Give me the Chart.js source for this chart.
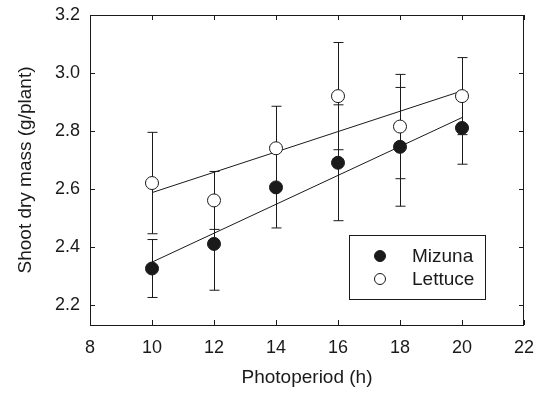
<!DOCTYPE html>
<html>
<head>
<meta charset="utf-8">
<script src="https://cdn.jsdelivr.net/npm/chart.js@4.4.1/dist/chart.umd.min.js"></script>
<style>
  html, body { margin: 0; padding: 0; background: #fff; }
</style>
</head>
<body>
<canvas id="chart" width="539" height="394"></canvas>
<script>
// values
const photoperiod = [10, 12, 14, 16, 18, 20];
const mizuna = [2.325, 2.41, 2.605, 2.69, 2.745, 2.81];
const mizunaErr = [0.1, 0.16, 0.14, 0.2, 0.205, 0.125];
const lettuce = [2.62, 2.56, 2.74, 2.92, 2.815, 2.92];
const lettuceErr = [0.175, 0.1, 0.145, 0.185, 0.18, 0.133];

// fitted regression lines (end points)
const fitX = [10, 20];
const mizunaFit = [2.347, 2.846];
const lettuceFit = [2.587, 2.938];

const xTicks = [8, 10, 12, 14, 16, 18, 20, 22];
const yTicks = [2.2, 2.4, 2.6, 2.8, 3.0, 3.2];

const ink = "#1a1a1a";
const fontFamily = "'Liberation Sans', Arial, sans-serif";

function pts(xs, ys) {
    return xs.map((x, i) => ({ x: x, y: ys[i] }));
}

// frame, inward ticks, error bars and the boxed legend
const decorations = {
    id: "decorations",
    beforeDatasetsDraw(chart) {
        const ctx = chart.ctx;
        const a = chart.chartArea;
        const xs = chart.scales.x;
        const ys = chart.scales.y;
        ctx.save();
        ctx.strokeStyle = ink;
        ctx.lineWidth = 1;

        // box
        ctx.strokeRect(a.left + 0.5, a.top + 0.5, a.right - a.left - 1, a.bottom - a.top);

        // ticks pointing inward on all four sides
        const tl = 5;
        ctx.beginPath();
        xTicks.forEach(v => {
            const px = Math.round(xs.getPixelForValue(v)) + 0.5;
            ctx.moveTo(px, a.bottom); ctx.lineTo(px, a.bottom - tl);
            ctx.moveTo(px, a.top); ctx.lineTo(px, a.top + tl);
        });
        yTicks.forEach(v => {
            const py = Math.round(ys.getPixelForValue(v)) + 0.5;
            ctx.moveTo(a.left, py); ctx.lineTo(a.left + tl, py);
            ctx.moveTo(a.right, py); ctx.lineTo(a.right - tl, py);
        });
        ctx.stroke();

        // error bars
        const cap = 5;
        function bars(vals, errs) {
            ctx.beginPath();
            photoperiod.forEach((x, i) => {
                const px = Math.round(xs.getPixelForValue(x)) + 0.5;
                const hi = ys.getPixelForValue(vals[i] + errs[i]);
                const lo = ys.getPixelForValue(vals[i] - errs[i]);
                ctx.moveTo(px, hi); ctx.lineTo(px, lo);
                ctx.moveTo(px - cap, hi); ctx.lineTo(px + cap, hi);
                ctx.moveTo(px - cap, lo); ctx.lineTo(px + cap, lo);
            });
            ctx.stroke();
        }
        bars(mizuna, mizunaErr);
        bars(lettuce, lettuceErr);
        ctx.restore();
    },
    afterDatasetsDraw(chart) {
        const ctx = chart.ctx;
        const a = chart.chartArea;
        const left = a.right - 175, top = a.top + 220;
        const w = 136, h = 64;
        ctx.save();
        ctx.fillStyle = "#fff";
        ctx.fillRect(left, top, w, h);
        ctx.strokeStyle = ink;
        ctx.lineWidth = 1;
        ctx.strokeRect(left + 0.5, top + 0.5, w, h);

        const items = [
            { label: "Mizuna", fill: ink },
            { label: "Lettuce", fill: "#fff" }
        ];
        ctx.font = "19px " + fontFamily;
        ctx.textBaseline = "middle";
        ctx.textAlign = "left";
        items.forEach((it, i) => {
            const cy = top + 21 + i * 23;
            ctx.beginPath();
            ctx.arc(left + 31, cy, 5.5, 0, Math.PI * 2);
            ctx.fillStyle = it.fill;
            ctx.fill();
            ctx.stroke();
            ctx.fillStyle = ink;
            ctx.fillText(it.label, left + 63, cy + 1);
        });
        ctx.restore();
    }
};

const ctx = document.getElementById("chart").getContext("2d");
const chart = new Chart(ctx, {
    type: "scatter",
    data: {
        datasets: [
            {
                label: "Mizuna",
                data: pts(photoperiod, mizuna),
                backgroundColor: ink,
                borderColor: ink,
                borderWidth: 1,
                pointRadius: 6.5
            },
            {
                label: "Lettuce",
                data: pts(photoperiod, lettuce),
                backgroundColor: "#fff",
                borderColor: ink,
                borderWidth: 1,
                pointRadius: 6.5
            },
            {
                label: "Mizuna fit",
                type: "line",
                data: pts(fitX, mizunaFit),
                borderColor: ink,
                borderWidth: 1,
                pointRadius: 0,
                fill: false
            },
            {
                label: "Lettuce fit",
                type: "line",
                data: pts(fitX, lettuceFit),
                borderColor: ink,
                borderWidth: 1,
                pointRadius: 0,
                fill: false
            }
        ]
    },
    options: {
        responsive: false,
        animation: false,
        layout: { padding: { top: 15, right: 15, left: 0, bottom: 0 } },
        plugins: {
            legend: { display: false },
            tooltip: { enabled: false }
        },
        scales: {
            x: {
                type: "linear",
                min: 8,
                max: 22,
                afterFit: s => {
                    s.height = 69;
                    s.paddingLeft = 0;
                    s.paddingRight = 0;
                },
                afterBuildTicks: s => { s.ticks = xTicks.map(v => ({ value: v })); },
                grid: { display: false, drawTicks: false },
                border: { display: false },
                ticks: {
                    color: ink,
                    padding: 12,
                    font: { family: fontFamily, size: 18 },
                    maxRotation: 0
                },
                title: {
                    display: true,
                    text: "Photoperiod (h)",
                    color: ink,
                    font: { family: fontFamily, size: 19 },
                    padding: { top: 4, bottom: 5 }
                }
            },
            y: {
                type: "linear",
                min: 2.13,
                max: 3.2,
                afterFit: s => {
                    s.width = 90;
                    s.paddingTop = 0;
                    s.paddingBottom = 0;
                },
                afterBuildTicks: s => { s.ticks = yTicks.map(v => ({ value: v })); },
                grid: { display: false, drawTicks: false },
                border: { display: false },
                ticks: {
                    color: ink,
                    padding: 10,
                    font: { family: fontFamily, size: 18 },
                    callback: v => v.toFixed(1)
                },
                title: {
                    display: true,
                    text: "Shoot dry mass (g/plant)",
                    color: ink,
                    font: { family: fontFamily, size: 19 },
                    padding: { top: 14, bottom: 4 }
                }
            }
        }
    },
    plugins: [decorations]
});
</script>
</body>
</html>
